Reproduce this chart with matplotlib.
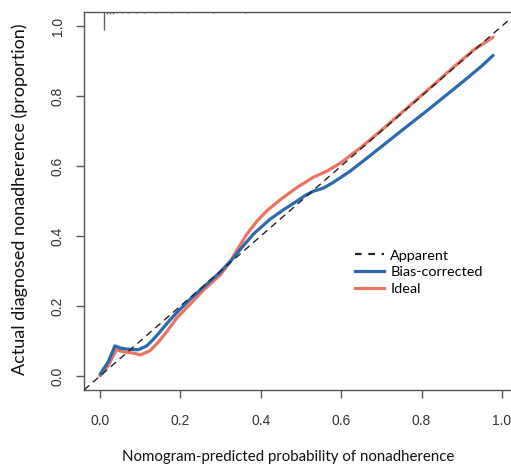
import matplotlib
matplotlib.use("Agg")
from matplotlib import pyplot as plt
from matplotlib.lines import Line2D

# Calibration curves (predicted vs observed proportion)
bias_x = [0.0, 0.02, 0.037, 0.05, 0.066, 0.08, 0.095, 0.116, 0.132, 0.149,
          0.17, 0.19, 0.224, 0.265, 0.30, 0.332, 0.355, 0.381, 0.423, 0.455,
          0.489, 0.512, 0.531, 0.556, 0.58, 0.622, 0.68, 0.738, 0.82, 0.904,
          0.95, 0.978]
bias_y = [0.005, 0.04, 0.086, 0.08, 0.077, 0.076, 0.075, 0.086, 0.104, 0.126,
          0.155, 0.18, 0.219, 0.262, 0.298, 0.338, 0.37, 0.405, 0.448, 0.474,
          0.499, 0.517, 0.528, 0.537, 0.553, 0.585, 0.637, 0.69, 0.764, 0.842,
          0.886, 0.916]

ideal_x = [0.0, 0.02, 0.041, 0.055, 0.066, 0.085, 0.1, 0.124, 0.145, 0.166,
           0.191, 0.224, 0.257, 0.30, 0.323, 0.345, 0.365, 0.39, 0.415, 0.45,
           0.489, 0.531, 0.564, 0.6, 0.65, 0.70, 0.76, 0.82, 0.88, 0.93, 0.978]
ideal_y = [0.0, 0.03, 0.076, 0.07, 0.068, 0.065, 0.06, 0.072, 0.097, 0.127,
           0.166, 0.205, 0.245, 0.29, 0.325, 0.368, 0.405, 0.442, 0.472, 0.505,
           0.538, 0.568, 0.585, 0.61, 0.654, 0.702, 0.762, 0.822, 0.883, 0.932,
           0.968]

# rug of predicted values along the top
rug_x = [0.01, 0.018, 0.025, 0.033, 0.042, 0.055, 0.07, 0.09, 0.11, 0.14,
         0.18, 0.22, 0.28, 0.36]
rug_h = [0.05, 0.006, 0.005, 0.005, 0.004, 0.004, 0.004, 0.003, 0.003,
         0.003, 0.003, 0.003, 0.003, 0.003]

ticks = [0.0, 0.2, 0.4, 0.6, 0.8, 1.0]
tick_labels = ["0.0", "0.2", "0.4", "0.6", "0.8", "1.0"]

BLUE = "#2a6aad"
RED = "#ec7461"
AXC = "#555555"

fig = plt.figure(figsize=(5.11, 4.66), dpi=100)
ax = fig.add_axes([0.1644, 0.1631, 0.8493, 0.8111])
ax.set_xlim(-0.04, 1.04)
ax.set_ylim(-0.04, 1.04)

ax.plot(bias_x, bias_y, color=BLUE, lw=2.3, solid_capstyle="round",
        solid_joinstyle="round", zorder=3)
ax.plot(ideal_x, ideal_y, color=RED, lw=2.3, solid_capstyle="round",
        solid_joinstyle="round", zorder=2)
ax.plot([-0.04, 1.04], [-0.04, 1.04], color="#222222", lw=1.0,
        dashes=(5, 3.5), zorder=4)

for x, h in zip(rug_x, rug_h):
    ax.plot([x, x], [1.04, 1.04 - h], color="#666666", lw=1.0,
            solid_capstyle="butt", zorder=1)

for s in ax.spines.values():
    s.set_color(AXC)
    s.set_linewidth(1.0)
ax.spines["right"].set_visible(False)

ax.set_xticks(ticks)
ax.set_xticklabels(tick_labels)
ax.set_yticks(ticks)
ax.set_yticklabels(tick_labels, rotation=90, va="center")
ax.tick_params(direction="out", length=6, width=1.0, color=AXC,
               labelsize=10, labelcolor="#333333")
ax.tick_params(axis="x", pad=11)
ax.tick_params(axis="y", pad=8)
for lab in ax.get_xticklabels() + ax.get_yticklabels():
    lab.set_family("Liberation Sans")

# axis titles placed in figure coordinates
fig.text(0.5636, 0.0107, "Nomogram-predicted probability of nonadherence",
         family="Lato", fontsize=10.8, color="#111111",
         ha="center", va="baseline")
fig.text(0.039, 0.572, "Actual diagnosed nonadherence (proportion)",
         family="Lato", fontsize=13, color="#111111",
         ha="center", va="center", rotation=90)

handles = [
    Line2D([], [], color="#222222", lw=1.6, dashes=(3, 3)),
    Line2D([], [], color=BLUE, lw=2.3),
    Line2D([], [], color=RED, lw=2.3),
]
ax.legend(handles, ["Apparent", "Bias-corrected", "Ideal"], frameon=False,
          loc="upper left", bbox_to_anchor=(0.6244, 0.372), borderpad=0,
          borderaxespad=0, handlelength=2.0, handletextpad=0.45,
          labelspacing=0.32, prop={"family": "Lato", "size": 10.4})

fig.savefig("out.png", dpi=100)
